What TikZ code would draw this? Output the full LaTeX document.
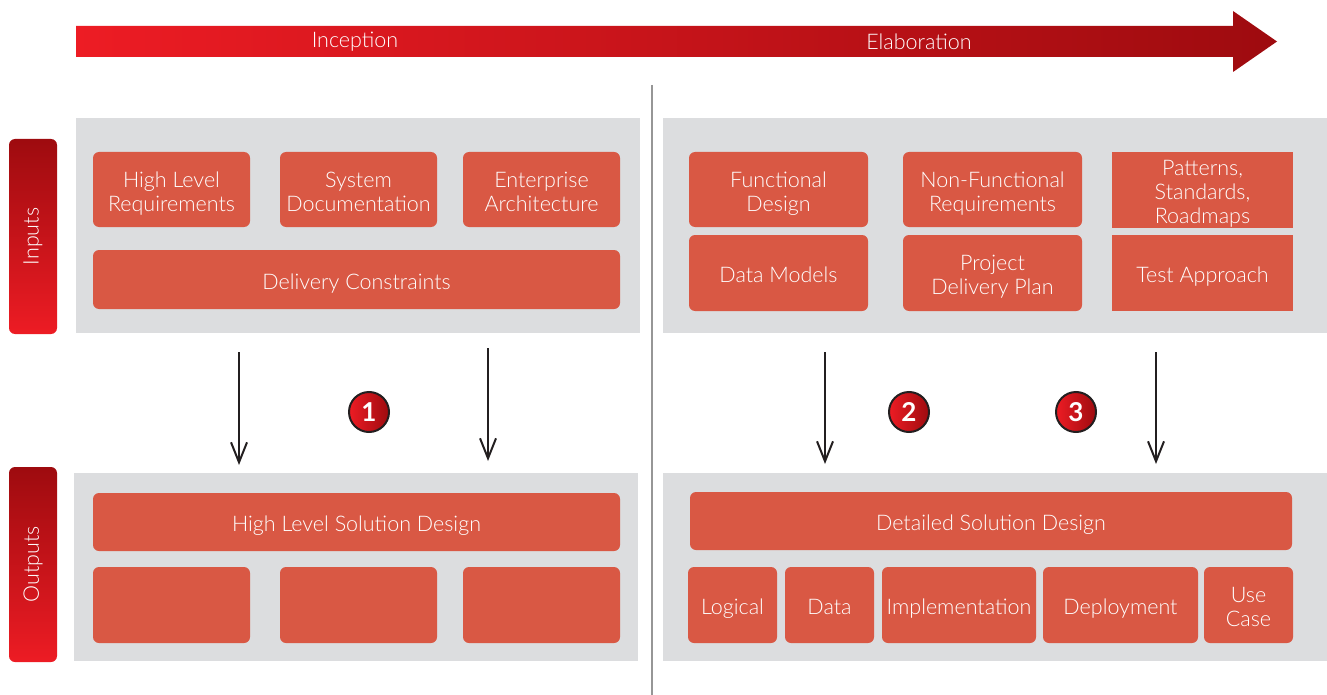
\documentclass[tikz,border=0pt]{standalone}
\usepackage{fontspec}
\setmainfont{Lato Light}[BoldFont=Lato Bold]
\usetikzlibrary{arrows.meta}
\definecolor{boxred}{RGB}{217,88,68}
\definecolor{panel}{RGB}{220,221,223}
\definecolor{brightred}{RGB}{237,28,36}
\definecolor{darkred}{RGB}{158,11,15}
\definecolor{ink}{RGB}{35,31,32}
\definecolor{divider}{RGB}{150,150,150}
\newcommand\place[7]{\node[#1, minimum width={#5pt-#3pt}, minimum height={#6pt-#4pt}] (#2) at ({(#3+#5)/2},{(#4+#6)/2}) {\raisebox{-5pt}[\height][\depth]{\begin{tabular}{@{}c@{}}#7\end{tabular}}};}
\begin{document}
\begin{tikzpicture}[x=1pt,y=-1pt,
  box/.style={fill=boxred, rounded corners=6pt, text=white, align=center, font=\fontsize{21.5}{24}\selectfont, inner sep=0pt},
  sqbox/.style={box, rounded corners=0pt},
  panelbox/.style={fill=panel, inner sep=0pt},
  lbl/.style={top color=darkred, bottom color=brightred, rounded corners=6pt, text=white, font=\fontsize{21.5}{24}\selectfont, inner sep=0pt, minimum width=48pt, minimum height=195pt},
  hdr/.style={text=white, font=\fontsize{21.5}{24}\selectfont, inner sep=0pt},
  flow/.style={draw=ink, line width=2pt, -{Straight Barb[length=20pt,width=16pt]}},
  num/.style={circle, minimum size=40pt, draw=ink, line width=2pt, left color=brightred, right color=darkred, text=white, font=\fontsize{26}{26}\selectfont\bfseries, inner sep=0pt}
]
\useasboundingbox (0,0) rectangle (1327,695);
% header arrow
\shade[left color=brightred, right color=darkred] (76,26) -- (1233,26) -- (1233,11) -- (1277,41.5) -- (1233,72) -- (1233,57) -- (76,57) -- cycle;
\node[hdr] (inc) at (355,42) {Inception};
\node[hdr] (ela) at (919,42) {Elaboration};
% divider
\draw[divider, line width=1.2pt] (652,85) -- (652,695);
% panels
\place{panelbox}{pinL}{76}{118}{640}{333}{}
\place{panelbox}{pinR}{663}{118}{1327}{333}{}
\place{panelbox}{poutL}{74}{473}{638}{661}{}
\place{panelbox}{poutR}{663}{473}{1327}{661}{}
% side labels
\node[lbl] (inputs) at (33,236.5) {\rotatebox{90}{Inputs}};
\node[lbl] (outputs) at (33,564.5) {\rotatebox{90}{Outputs}};
% left inputs
\place{box}{hlr}{93}{152}{250}{227}{High Level\\Requirements}
\place{box}{sysdoc}{280}{152}{437}{227}{System\\Documentation}
\place{box}{ea}{463}{152}{620}{227}{Enterprise\\Architecture}
\place{box}{dc}{93}{250}{620}{309}{Delivery Constraints}
% right inputs
\place{box}{fd}{689}{152}{868}{227}{Functional\\Design}
\place{box}{nfr}{903}{152}{1082}{227}{Non-Functional\\Requirements}
\place{sqbox}{psr}{1112}{152}{1293}{228}{Patterns,\\Standards,\\Roadmaps}
\place{box}{dm}{689}{235}{868}{311}{Data Models}
\place{box}{pdp}{903}{235}{1082}{311}{Project\\Delivery Plan}
\place{sqbox}{ta}{1112}{235}{1293}{311}{Test Approach}
% left outputs
\place{box}{hlsd}{93}{493}{620}{551}{High Level Solution Design}
\place{box}{o1}{93}{567}{250}{643}{}
\place{box}{o2}{280}{567}{437}{643}{}
\place{box}{o3}{463}{567}{620}{643}{}
% right outputs
\place{box}{dsd}{690}{492}{1292}{550}{Detailed Solution Design}
\place{box}{logical}{688}{567}{777}{643}{Logical}
\place{box}{data}{785}{567}{874}{643}{Data}
\place{box}{impl}{882}{567}{1036}{643}{Implementation}
\place{box}{depl}{1043}{567}{1198}{643}{Deployment}
\place{box}{uc}{1204}{567}{1293}{643}{Use\\Case}
% arrows
\coordinate (a1s) at (239,352); \coordinate (a1e) at (239,465);
\coordinate (a2s) at (488,348); \coordinate (a2e) at (488,461);
\coordinate (a3s) at (825,352); \coordinate (a3e) at (825,464);
\coordinate (a4s) at (1156,352); \coordinate (a4e) at (1156,464);
\draw[flow] (a1s) -- (a1e);
\draw[flow] (a2s) -- (a2e);
\draw[flow] (a3s) -- (a3e);
\draw[flow] (a4s) -- (a4e);
% numbers
\node[num] (n1) at (369,412) {1};
\node[num] (n2) at (909,412) {2};
\node[num] (n3) at (1076,412) {3};
\end{tikzpicture}
\end{document}
